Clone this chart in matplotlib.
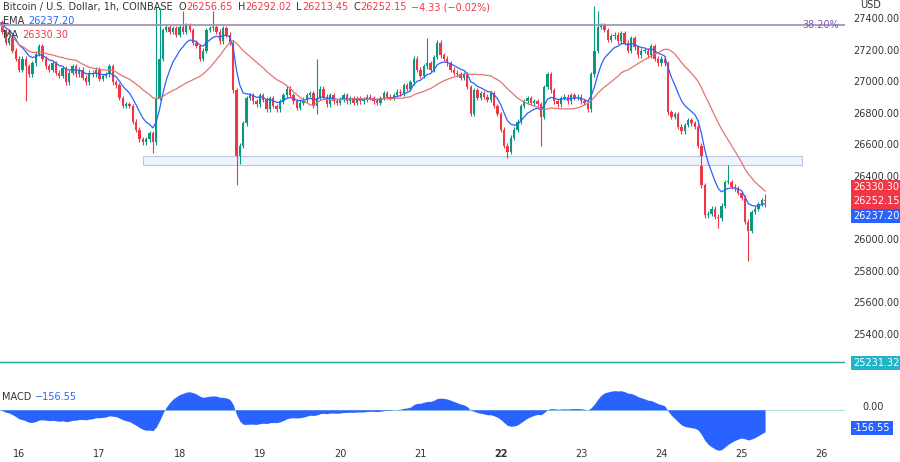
import matplotlib
matplotlib.use("Agg")
import matplotlib.pyplot as plt
import numpy as np
import pandas as pd

closes = [27380, 27320, 27250, 27280, 27200, 27150,
 27080, 27150, 27100, 27050, 27120, 27180, 27230, 27150, 27100, 27080, 27120, 27060, 27040, 27090, 27000, 27060, 27100, 27050, 27080, 27030, 27000, 27060, 27050, 27080,
 27020, 27040, 27050, 27100, 27000, 26980, 26900, 26850, 26860, 26850, 26750, 26700, 26640, 26620, 26640, 26680, 26620, 26900, 27150, 27330, 27350, 27320, 27340, 27300,
 27350, 27320, 27360, 27330, 27250, 27230, 27150, 27200, 27330, 27340, 27350, 27320, 27260, 27340, 27300, 27250, 26950, 26500, 26600, 26740, 26900, 26920, 26880, 26860,
 26920, 26890, 26830, 26900, 26850, 26830, 26880, 26920, 26960, 26920, 26880, 26840, 26870, 26890, 26920, 26930, 26850, 26900, 26960, 26910, 26860, 26920, 26880, 26870,
 26890, 26920, 26880, 26900, 26870, 26900, 26880, 26890, 26910, 26900, 26880, 26870, 26900, 26930, 26910, 26900, 26920, 26940, 26930, 26980, 26960, 27000, 27150, 27080,
 27040, 27100, 27120, 27080, 27160, 27250, 27170, 27150, 27120, 27080, 27060, 27050, 27030, 27050, 26970, 26800, 26950, 26900, 26930, 26910, 26890, 26930, 26850, 26800,
 26700, 26600, 26560, 26650, 26700, 26750, 26850, 26880, 26900, 26870, 26880, 26860, 26780, 26970, 27050, 26950, 26880, 26860, 26900, 26910, 26880, 26920, 26900, 26910,
 26880, 26870, 26830, 27050, 27200, 27350, 27360, 27330, 27270, 27290, 27300, 27260, 27310, 27250, 27200, 27280, 27220, 27170, 27200, 27200, 27170, 27230, 27150, 27120,
 27150, 27120, 26810, 26780, 26800, 26720, 26690, 26730, 26760, 26740, 26720, 26600, 26350, 26160, 26170, 26200, 26150, 26140, 26220, 26370, 26370, 26340, 26330, 26300,
 26270, 26120, 26060, 26180, 26200, 26230, 26256.65, 26252.15]
first_open = 27400
wick_highs = {0: 27420, 47: 27480, 48: 27470, 55: 27450, 64: 27450, 95: 27150, 128: 27280, 178: 27480, 179: 27450, 218: 26480, 229: 26292.02}
wick_lows = {8: 26880, 46: 26550, 71: 26350, 95: 26800, 152: 26520, 162: 26600, 215: 26080, 224: 25870, 229: 26213.45}
day_labels = ["16", "17", "18", "19", "20", "21", "22", "23", "24", "25", "26"]
fib_level = 27362
zone = (26476, 26535)
teal_level = 25231.32

c = np.array(closes, float)
o = np.concatenate([[first_open], c[:-1]])
n = len(c)
hi = np.maximum(o, c) + 15
lo = np.minimum(o, c) - 15
for k, v in wick_highs.items(): hi[k] = v
for k, v in wick_lows.items(): lo[k] = v
s = pd.Series(c)
ema = s.ewm(span=9, adjust=False).mean()
ma = s.rolling(24, min_periods=1).mean()
macd = s.ewm(span=12, adjust=False).mean() - s.ewm(span=26, adjust=False).mean()

UP, DN = "#089981", "#f23645"
W, H = 900, 462
fig = plt.figure(figsize=(9, 4.62), dpi=100)
def ax_at(x0, y0, x1, y1):
    return fig.add_axes([x0 / W, 1 - y1 / H, (x1 - x0) / W, (y1 - y0) / H])
ax = ax_at(0, 0, 845, 375)
axm = ax_at(0, 378, 845, 450)
xl = (0.3, 252.9)
idx = np.arange(n)
for i in range(n):
    col = UP if c[i] >= o[i] else DN
    ax.vlines(i, lo[i], hi[i], color=col, lw=0.8)
    ax.bar(i, max(abs(c[i] - o[i]), 4), bottom=min(o[i], c[i]), width=0.7, color=col, lw=0)
ax.plot(idx, ema, color="#2962ff", lw=0.9)
ax.plot(idx, ma, color="#e57373", lw=0.9)
ax.axhline(fib_level, color="#9c8faa", lw=1.2)
ax.text(251, fib_level, "38.20%", color="#7e57c2", fontsize=7, va="center", ha="right")
ax.add_patch(plt.Rectangle((43, zone[0]), 197, zone[1] - zone[0], facecolor="#eef3fc", edgecolor="#b8c7e6", lw=0.8))
ax.axhline(teal_level, color="#26a69a", lw=1)
ax.set_xlim(*xl); ax.set_ylim(25150, 27520)
axm.fill_between(idx, macd, 0, color="#2962ff", lw=0)
axm.axhline(0, color="#b2dfdb", lw=0.8, zorder=0)
axm.set_xlim(*xl); axm.set_ylim(-240, 190)
for a in (ax, axm):
    for sp in a.spines.values(): sp.set_visible(False)
    a.set_xticks([]); a.set_yticks([])
FS = 7
def py(p): return 19 + (27400 - p) / 200 * 31.6
for p in range(25400, 27401, 200):
    fig.text(853 / W, 1 - py(p) / H, f"{p:.2f}", fontsize=FS, color="#333", va="center")
fig.text(860 / W, 1 - 5 / H, "USD", fontsize=FS, color="#333", va="center")
for yy, txt, col in [(187, "26330.30", DN), (201.5, "26252.15", DN), (216, "26237.20", "#2962ff"), (363, "25231.32", "#22b5c9"), (428, "-156.55", "#2962ff")]:
    fig.text(853 / W, 1 - yy / H, txt, fontsize=FS, color="white", va="center",
             bbox=dict(boxstyle="square,pad=0.22", fc=col, ec="none"))
fig.text(862 / W, 1 - 407 / H, "0.00", fontsize=FS, color="#333", va="center")
for k, lab in enumerate(day_labels):
    xi = 6 + 24 * k
    xp = (xi - xl[0]) / (xl[1] - xl[0]) * 845
    fig.text(xp / W, 1 - 454 / H, lab, fontsize=FS, color="#333", ha="center", va="center",
             fontweight="bold" if lab == "22" else "normal")
fig.canvas.draw()
r = fig.canvas.get_renderer()
def line(x, y, parts):
    for s_, col, gap in parts:
        tt = fig.text(x / W, 1 - y / H, s_, fontsize=FS, color=col, va="center")
        x += tt.get_window_extent(r).width + gap
line(3, 7, [("Bitcoin / U.S. Dollar, 1h, COINBASE", "#333", 6), ("O", "#333", 0), ("26256.65", DN, 5),
            ("H", "#333", 0), ("26292.02", DN, 5), ("L", "#333", 0), ("26213.45", DN, 5),
            ("C", "#333", 0), ("26252.15", DN, 5), ("\u22124.33 (\u22120.02%)", DN, 0)])
line(3, 21, [("EMA", "#333", 4), ("26237.20", "#2962ff", 0)])
line(3, 35, [("MA", "#333", 4), ("26330.30", DN, 0)])
line(2, 397, [("MACD", "#333", 4), ("\u2212156.55", "#2962ff", 0)])
fig.savefig("out.png", dpi=100)
